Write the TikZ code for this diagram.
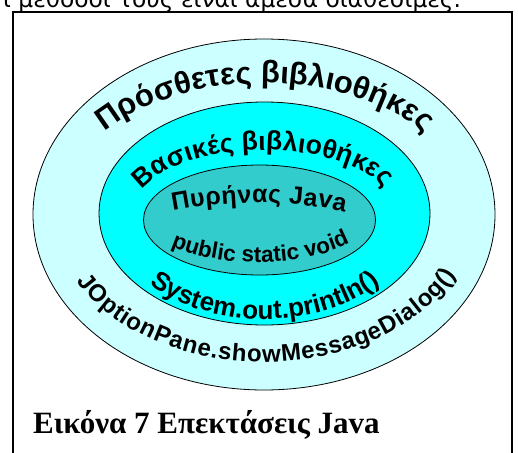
\documentclass[tikz,border=0pt]{standalone}
\usepackage{fontspec}
\setmainfont{Liberation Sans}
\newfontfamily\captionfont{Liberation Serif}
\newfontfamily\bodyfont{DejaVu Sans}
\usetikzlibrary{decorations.text}
\definecolor{outercyan}{HTML}{CCFFFF}
\definecolor{midcyan}{HTML}{00FFFF}
\definecolor{innercyan}{HTML}{33CCCC}
\tikzset{
  ring/.style={draw=black, line width=0.8pt},
  curvetext/.style={decorate, decoration={text along path, text align={fit to path}}}
}
\begin{document}
\begin{tikzpicture}[x=1pt, y=1pt]
    \useasboundingbox (0,0) rectangle (518,-452);
    \clip (0,0) rectangle (518,-452);

    % Line of text above the frame
    \node[anchor=base west, inner sep=0pt, font=\bodyfont\fontsize{23.3}{28}\selectfont] (toptext) at (3,-8) {ι μέθοδοί τους είναι άμεσα διαθέσιμες.};

    % Frame
    \draw[line width=1.6pt] (13,-12) rectangle (512,-480);

    % Rings
    \draw[ring, fill=outercyan] (264,-214.5) ellipse [x radius=231, y radius=175.5];
    \draw[ring, fill=midcyan] (264.5,-213.5) ellipse [x radius=165.5, y radius=111.5];
    \draw[ring, fill=innercyan] (259.5,-220) ellipse [x radius=116, y radius=55];

    % Outer ring texts
    \path[curvetext, decoration={text={|\fontsize{31}{37}\selectfont\bfseries|Πρόσθετες βιβλιοθήκες}}]
        ([shift={(264,-214.5)}]141:205 and 131.5) arc[start angle=141, end angle=39, x radius=205, y radius=131.5];
    \path[curvetext, decoration={text={|\fontsize{24}{29}\selectfont\bfseries|JOptionPane.showMessageDialog()}}]
        ([shift={(264,-214.5)}]207:210 and 147.5) arc[start angle=207, end angle=336, x radius=210, y radius=147.5];

    % Middle ring texts
    \path[curvetext, decoration={text={|\fontsize{26.5}{32}\selectfont\bfseries|Βασικές βιβλιοθήκες}}]
        ([shift={(264,-213.5)}]158:132 and 63.5) arc[start angle=158, end angle=24, x radius=132, y radius=63.5];
    \path[curvetext, decoration={text={|\fontsize{26}{31}\selectfont\bfseries|System.out.println()}}]
        ([shift={(264.5,-213.5)}]222:155 and 105.5) arc[start angle=222, end angle=318, x radius=155, y radius=105.5];

    % Core texts
    \coordinate (coreA) at (173,-211);
    \coordinate (coreB) at (345,-212);
    \path[curvetext, decoration={text={|\fontsize{25}{30}\selectfont\bfseries|Πυρήνας Java}}]
        (coreA) .. controls (230,-200) and (290,-200) .. (coreB);
    \coordinate (voidA) at (171,-246);
    \coordinate (voidB) at (348,-244);
    \path[curvetext, decoration={text={|\fontsize{22.5}{27}\selectfont\bfseries|public static void}}]
        (voidA) .. controls (220,-268) and (300,-268) .. (voidB);

    % Caption
    \node[anchor=base west, inner sep=0pt, font=\captionfont\bfseries\fontsize{31}{37}\selectfont] (caption) at (33,-433) {Εικόνα 7 Επεκτάσεις Java};
\end{tikzpicture}
\end{document}
